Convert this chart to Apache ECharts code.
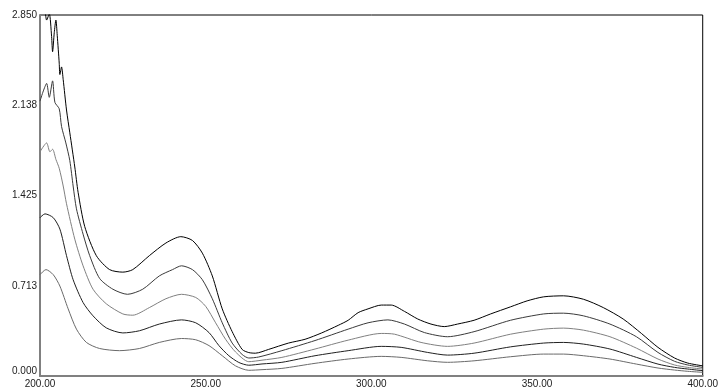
<!DOCTYPE html>
<html>
<head>
<meta charset="utf-8">
<script src="https://cdn.jsdelivr.net/npm/echarts@6/dist/echarts.min.js"></script>
<style>
html,body{margin:0;padding:0;background:#fff;}
#chart{width:721px;height:389px;}
</style>
</head>
<body>
<div id="chart"></div>
<script>
// wavelength (nm) and absorbance readings for each of the five spectra
var wl1 = [200, 201.5, 202, 202.8, 203.5, 203.8, 204.3, 204.8, 205.2, 205.8, 206, 206.5, 207, 208, 209, 210.5, 211.5, 213.5, 217, 221, 225, 228, 233, 238, 242.5, 246, 249, 252, 255, 258, 261, 263, 265, 269, 275, 280, 285, 290, 293, 296, 299, 303, 306, 310, 314, 318, 322, 326, 331, 336, 342, 347, 352, 358, 364, 370, 376, 381.5, 386.5, 391.5, 395.5, 400];
var ab1 = [3.0, 2.88, 2.81, 2.86, 2.68, 2.56, 2.71, 2.81, 2.69, 2.47, 2.38, 2.44, 2.34, 2.10, 1.92, 1.65, 1.45, 1.18, 0.95, 0.84, 0.82, 0.84, 0.95, 1.05, 1.10, 1.07, 0.97, 0.79, 0.53, 0.35, 0.21, 0.185, 0.18, 0.21, 0.26, 0.29, 0.34, 0.40, 0.44, 0.50, 0.53, 0.56, 0.56, 0.51, 0.45, 0.41, 0.39, 0.41, 0.44, 0.49, 0.546, 0.593, 0.625, 0.633, 0.606, 0.54, 0.45, 0.336, 0.226, 0.142, 0.102, 0.08];

var wl2 = [200, 201, 202, 202.8, 203.8, 204.5, 205.8, 206.5, 207.8, 209, 210, 211, 213, 215, 218, 222, 226.4, 231, 236, 240, 242.7, 246, 249, 252, 255, 258, 261, 263, 266, 273, 283, 293, 299, 305, 310, 316, 323, 331, 342, 352, 358, 364, 372, 380, 386.5, 391.5, 395.5, 400];
var ab2 = [2.17, 2.25, 2.31, 2.20, 2.33, 2.16, 2.11, 1.97, 1.84, 1.70, 1.50, 1.32, 1.12, 0.95, 0.77, 0.685, 0.645, 0.685, 0.79, 0.84, 0.87, 0.84, 0.76, 0.61, 0.42, 0.26, 0.17, 0.142, 0.15, 0.20, 0.28, 0.37, 0.42, 0.443, 0.41, 0.343, 0.31, 0.35, 0.44, 0.49, 0.496, 0.475, 0.41, 0.31, 0.186, 0.116, 0.087, 0.068];

var wl3 = [200, 202, 203, 203.8, 204.8, 205.8, 207, 208, 210.5, 213, 216, 220, 225, 228, 233, 238, 242.7, 247, 250, 253, 256, 259, 263, 267, 273, 283, 293, 303, 307, 315, 323, 331, 342, 352, 358, 364, 372, 380, 386.5, 391.5, 395.5, 400];
var ab3 = [1.77, 1.84, 1.77, 1.79, 1.71, 1.64, 1.50, 1.36, 1.08, 0.87, 0.685, 0.57, 0.49, 0.48, 0.54, 0.61, 0.645, 0.62, 0.55, 0.42, 0.29, 0.19, 0.113, 0.125, 0.147, 0.213, 0.283, 0.336, 0.33, 0.265, 0.234, 0.26, 0.33, 0.37, 0.378, 0.362, 0.31, 0.22, 0.134, 0.087, 0.068, 0.055];

var wl4 = [200, 201.5, 204, 206, 208, 210, 213, 216, 220, 225, 230, 236, 242.7, 247, 251, 254, 257, 260, 263, 267, 273, 283, 293, 303, 309, 317, 323, 331, 342, 352, 358, 364, 372, 380, 386.5, 391.5, 395.5, 400];
var ab4 = [1.25, 1.28, 1.25, 1.16, 0.95, 0.76, 0.58, 0.475, 0.38, 0.34, 0.357, 0.41, 0.443, 0.42, 0.343, 0.24, 0.16, 0.107, 0.085, 0.095, 0.108, 0.16, 0.20, 0.234, 0.226, 0.186, 0.165, 0.18, 0.23, 0.26, 0.265, 0.252, 0.213, 0.147, 0.094, 0.068, 0.055, 0.042];

var wl5 = [200, 201.8, 204, 206, 208.5, 211, 214, 218, 224, 230, 236, 242.7, 247, 251, 255, 259, 263, 267, 273, 283, 293, 303, 309, 317, 323, 331, 342, 352, 358, 364, 372, 380, 386.5, 391.5, 395.5, 400];
var ab5 = [0.80, 0.84, 0.80, 0.71, 0.53, 0.37, 0.265, 0.217, 0.20, 0.217, 0.265, 0.296, 0.286, 0.24, 0.16, 0.08, 0.045, 0.05, 0.06, 0.10, 0.134, 0.155, 0.147, 0.12, 0.108, 0.12, 0.152, 0.173, 0.173, 0.16, 0.134, 0.094, 0.063, 0.047, 0.037, 0.029];

var yTickLabels = ['0.000', '0.713', '1.425', '2.138', '2.850'];
var xTickLabels = ['200.00', '250.00', '300.00', '350.00', '400.00'];

var curveX = [wl1, wl2, wl3, wl4, wl5];
var curveY = [ab1, ab2, ab3, ab4, ab5];
var curveColors = ['#000000', '#3a3a3a', '#808080', '#202020', '#6a6a6a'];

function pairs(xs, ys) {
  var out = [];
  for (var i = 0; i < xs.length; i++) out.push([xs[i], ys[i]]);
  return out;
}

var series = [];
for (var k = 0; k < curveX.length; k++) {
  series.push({
    type: 'line',
    data: pairs(curveX[k], curveY[k]),
    showSymbol: false,
    symbol: 'none',
    smooth: 0.25,
    clip: true,
    lineStyle: { width: 1, color: curveColors[k] },
    z: 3
  });
}

var chart = echarts.init(document.getElementById('chart'), null, { renderer: 'canvas' });
chart.setOption({
  animation: false,
  backgroundColor: '#ffffff',
  grid: {
    left: 40, right: 13, top: 15, bottom: 12,
    show: true, borderColor: '#000000', borderWidth: 1, backgroundColor: 'transparent'
  },
  xAxis: {
    type: 'value', min: 200, max: 400, interval: 50,
    axisLine: { show: true, onZero: false, lineStyle: { color: '#808080', width: 2 } },
    axisTick: { show: false },
    splitLine: { show: false },
    axisLabel: {
      margin: 3, fontSize: 10, color: '#222', fontFamily: 'Liberation Sans, Arial, sans-serif',
      formatter: function (v) { return xTickLabels[Math.round((v - 200) / 50)]; }
    }
  },
  yAxis: {
    type: 'value', min: 0, max: 2.85, interval: 0.7125,
    axisLine: { show: true, lineStyle: { color: '#808080', width: 2 } },
    axisTick: { show: false },
    splitLine: { show: false },
    axisLabel: {
      margin: 3, fontSize: 10, color: '#222', fontFamily: 'Liberation Sans, Arial, sans-serif',
      verticalAlignMinLabel: 'bottom',
      formatter: function (v) { return yTickLabels[Math.round(v / 0.7125)]; }
    }
  },
  series: series
});
</script>
</body>
</html>
